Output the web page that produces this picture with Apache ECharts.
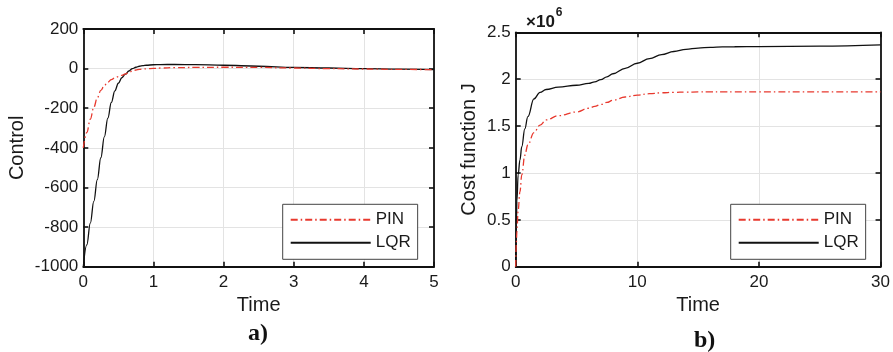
<!DOCTYPE html>
<html>
<head>
<meta charset="utf-8">
<script src="https://cdn.jsdelivr.net/npm/echarts@6/dist/echarts.min.js"></script>
<style>
  html, body { margin: 0; padding: 0; background: #fff; }
  #main { width: 893px; height: 352px; }
</style>
</head>
<body>
<div id="main"></div>
<script>
// a) control signal
const controlTime = [0, 0.05, 0.1, 0.15, 0.2, 0.25, 0.3, 0.35, 0.4, 0.45, 0.5, 0.55, 0.6, 0.65, 0.7, 0.75, 0.8, 0.85, 0.9, 1.0, 1.1, 1.3, 1.6, 2.0, 2.5, 3.0, 3.5, 4.0, 4.5, 5.0];
const controlLQR = [-1000, -890, -780, -670, -560, -450, -345, -250, -170, -112, -74, -46, -28, -12, 0, 7, 12, 15, 17, 19.5, 20.5, 21, 20, 17, 12, 6, 3, 0, -3, -5];
const controlPIN = [-400, -322, -255, -195, -147, -110, -85, -68, -56, -47, -40, -34, -27, -19, -12, -7, -4, -2, -1, 1, 3, 5, 6, 7, 6, 3, 0, -2, -4, -5];

// b) cost function J (x10^6)
const costTime = [0, 0.05, 0.1, 0.2, 0.35, 0.5, 0.75, 1.0, 1.5, 2.0, 2.5, 3.5, 5, 6, 6.5, 7, 7.5, 8, 9, 10, 11, 12, 13, 14, 15, 16, 17, 18, 20, 25, 30];
const costLQR = [0, 0.45, 0.7, 0.98, 1.14, 1.28, 1.47, 1.6, 1.79, 1.86, 1.89, 1.915, 1.935, 1.955, 1.972, 1.995, 2.025, 2.058, 2.115, 2.17, 2.22, 2.262, 2.295, 2.318, 2.332, 2.34, 2.344, 2.346, 2.347, 2.352, 2.365];
const costPIN = [0, 0.25, 0.38, 0.6, 0.8, 0.98, 1.19, 1.3, 1.43, 1.51, 1.565, 1.61, 1.65, 1.69, 1.71, 1.73, 1.752, 1.775, 1.81, 1.83, 1.845, 1.855, 1.86, 1.862, 1.864, 1.865, 1.865, 1.865, 1.865, 1.865, 1.865];

const seriesNames = ["PIN", "LQR"];

const FONT = "'Liberation Sans', Arial, Helvetica, sans-serif";
const pinColor = "#e8392e";
const lqrColor = "#111111";

function pairs(xs, ys) {
  return xs.map((x, i) => [x, ys[i]]);
}

// main axis (with labels) + mirrored box axis (ticks only)
function xAxes(gridIndex, max, interval) {
  const base = {
    type: "value",
    gridIndex: gridIndex,
    min: 0,
    max: max,
    interval: interval,
    axisLine: { onZero: false, lineStyle: { color: "#111", width: 1.8 } },
    axisTick: { inside: true, length: 5, lineStyle: { color: "#111", width: 1.6 } },
  };
  return [
    Object.assign({}, base, {
      position: "bottom",
      name: "Time",
      nameLocation: "middle",
      nameGap: 29,
      nameTextStyle: { fontFamily: FONT, fontSize: 20, color: "#1a1a1a" },
      axisLabel: { fontFamily: FONT, fontSize: 17, color: "#1a1a1a", margin: 7 },
      splitLine: { show: true, lineStyle: { color: "#e3e3e3", width: 1 } },
    }),
    Object.assign({}, base, {
      position: "top",
      axisLabel: { show: false },
      splitLine: { show: false },
    }),
  ];
}

function yAxes(gridIndex, min, max, interval, name, nameGap) {
  const base = {
    type: "value",
    gridIndex: gridIndex,
    min: min,
    max: max,
    interval: interval,
    axisLine: { show: true, onZero: false, lineStyle: { color: "#111", width: 1.8 } },
    axisTick: { show: true, inside: true, length: 5, lineStyle: { color: "#111", width: 1.6 } },
  };
  return [
    Object.assign({}, base, {
      position: "left",
      name: name,
      nameLocation: "middle",
      nameGap: nameGap,
      nameTextStyle: { fontFamily: FONT, fontSize: 20, color: "#1a1a1a" },
      axisLabel: { fontFamily: FONT, fontSize: 17, color: "#1a1a1a", margin: 5, formatter: (v) => String(v) },
      splitLine: { show: true, lineStyle: { color: "#e3e3e3", width: 1 } },
    }),
    Object.assign({}, base, {
      position: "right",
      axisLabel: { show: false },
      splitLine: { show: false },
    }),
  ];
}

function legendAt(left, top) {
  return {
    data: seriesNames,
    left: left,
    top: top,
    orient: "vertical",
    itemWidth: 80,
    itemHeight: 14,
    itemGap: 6,
    padding: [7, 7, 8, 7],
    borderColor: "#444",
    borderWidth: 1,
    backgroundColor: "#fff",
    selectedMode: false,
    // hide the circle the line legend icon draws in its middle
    itemStyle: { color: "rgba(0,0,0,0)", borderWidth: 0, opacity: 0 },
    textStyle: { fontFamily: FONT, fontSize: 17, color: "#1a1a1a" },
  };
}

function line(name, xIdx, yIdx, data) {
  const pin = name === "PIN";
  return {
    name: name,
    type: "line",
    xAxisIndex: xIdx,
    yAxisIndex: yIdx,
    data: data,
    symbol: "none",
    smooth: 0.4,
    smoothMonotone: "x",
    z: pin ? 3 : 2,
    lineStyle: pin
      ? { color: pinColor, width: 1.3, type: [7, 3, 1.5, 3] }
      : { color: lqrColor, width: 1.3, type: "solid" },
    itemStyle: { color: pin ? pinColor : lqrColor },
  };
}

const chart = echarts.init(document.getElementById("main"), null, { renderer: "canvas" });

const option = {
  animation: false,
  backgroundColor: "#fff",
  grid: [
    { left: 83.3, top: 29, width: 350.7, height: 237.7 },
    { left: 515.7, top: 32.3, width: 366.6, height: 234.4 },
  ],
  xAxis: [].concat(xAxes(0, 5, 1), xAxes(1, 30, 10)),
  yAxis: [].concat(
    yAxes(0, -1000, 200, 200, "Control", 56),
    yAxes(1, 0, 2.5, 0.5, "Cost function J", 36)
  ),
  legend: [legendAt(282.7, 204.3), legendAt(730.7, 204.3)],
  title: [
    {
      text: "a)",
      left: 248,
      top: 322,
      padding: 0,
      textStyle: { fontFamily: "'Liberation Serif', 'Times New Roman', serif", fontWeight: "bold", fontSize: 24, color: "#111" },
    },
    {
      text: "b)",
      left: 694,
      top: 329,
      padding: 0,
      textStyle: { fontFamily: "'Liberation Serif', 'Times New Roman', serif", fontWeight: "bold", fontSize: 24, color: "#111" },
    },
    {
      text: "{x|×10}{e|6}",
      left: 526,
      top: 7,
      padding: 0,
      textStyle: {
        rich: {
          x: { fontFamily: FONT, fontSize: 17, color: "#1a1a1a", lineHeight: 24, verticalAlign: "bottom" },
          e: { fontFamily: FONT, fontSize: 12, color: "#1a1a1a", lineHeight: 24, verticalAlign: "top", padding: [0, 0, 0, 1] },
        },
      },
    },
  ],
  series: [
    line("LQR", 0, 0, pairs(controlTime, controlLQR)),
    line("PIN", 0, 0, pairs(controlTime, controlPIN)),
    line("LQR", 2, 2, pairs(costTime, costLQR)),
    line("PIN", 2, 2, pairs(costTime, costPIN)),
  ],
};

chart.setOption(option);
</script>
</body>
</html>
